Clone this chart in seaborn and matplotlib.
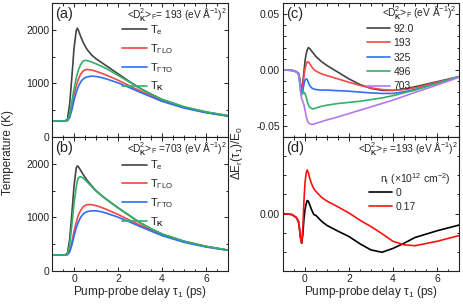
import numpy as np
import pandas as pd
import seaborn as sns
import matplotlib
matplotlib.use("Agg")
import matplotlib.pyplot as plt
from matplotlib.ticker import MultipleLocator

sns.set_theme(style="ticks")
plt.rcParams['font.family'] = ['Liberation Sans', 'DejaVu Sans']
plt.rcParams['mathtext.fontset'] = 'custom'
plt.rcParams['mathtext.rm'] = 'Liberation Sans'
plt.rcParams['mathtext.it'] = 'Liberation Sans:italic'
plt.rcParams['mathtext.bf'] = 'Liberation Sans:bold'
plt.rcParams['axes.unicode_minus'] = False

# ---- data: temperatures (K), panels (a) and (b)
t_T = [-1, -0.5, -0.4, -0.3, -0.2, -0.1, 0, 0.1, 0.15, 0.2, 0.3, 0.4, 0.5, 0.6,
       0.8, 1, 1.25, 1.5, 2, 2.5, 3, 3.5, 4, 5, 6, 7]

Te_a   = [300, 300, 302, 330, 600, 1100, 1650, 1980, 2030, 1990, 1880, 1780, 1700, 1630,
          1530, 1460, 1390, 1320, 1180, 1040, 910, 800, 700, 560, 465, 395]
TK_a   = [300, 300, 300, 310, 420, 650, 900, 1100, 1180, 1250, 1350, 1410, 1430, 1425,
          1400, 1365, 1320, 1270, 1150, 1030, 905, 800, 700, 565, 470, 400]
TLO_a  = [300, 300, 300, 308, 380, 560, 780, 950, 1020, 1080, 1170, 1225, 1252, 1260,
          1250, 1225, 1190, 1150, 1060, 960, 860, 770, 680, 550, 460, 392]
TTO_a  = [300, 300, 300, 305, 360, 500, 680, 830, 890, 945, 1025, 1075, 1105, 1122,
          1135, 1130, 1110, 1080, 1010, 925, 835, 750, 665, 540, 452, 388]

Te_b   = [300, 300, 302, 330, 580, 1050, 1580, 1920, 1960, 1945, 1880, 1810, 1750, 1690,
          1590, 1500, 1410, 1330, 1180, 1040, 900, 790, 690, 555, 460, 390]
TK_b   = [300, 300, 301, 320, 480, 850, 1250, 1560, 1680, 1740, 1760, 1740, 1705, 1660,
          1575, 1490, 1405, 1325, 1178, 1040, 900, 790, 690, 555, 460, 390]
TLO_b  = [300, 300, 300, 306, 370, 530, 740, 900, 980, 1040, 1130, 1190, 1222, 1237,
          1238, 1220, 1185, 1145, 1055, 955, 855, 765, 675, 545, 455, 388]
TTO_b  = [300, 300, 300, 304, 350, 480, 650, 800, 860, 915, 1000, 1055, 1090, 1108,
          1123, 1122, 1105, 1075, 1005, 920, 830, 745, 660, 535, 448, 385]

T_labels = [r'T$_\mathrm{e}$', r'T$_{\Gamma\mathrm{LO}}$', r'T$_{\Gamma\mathrm{TO}}$', r'T$_\mathbf{K}$']
T_colors = ['#444444', '#f24848', '#2f6ff0', '#34b06a']

# ---- data: reflectivity change, panels (c) and (d)
t_E = [-1, -0.6, -0.4, -0.3, -0.25, -0.2, -0.15, -0.1, -0.05, 0, 0.05, 0.1, 0.15, 0.2,
       0.3, 0.4, 0.5, 0.75, 1, 1.5, 2, 2.5, 3, 3.5, 4, 4.5, 5, 6, 7]

E_92  = [0, -0.0003, -0.0015, -0.003, -0.007, -0.013, -0.016, -0.012, -0.002, 0.008, 0.014,
         0.018, 0.020, 0.0195, 0.017, 0.0145, 0.012, 0.0075, 0.004, -0.002, -0.008, -0.013,
         -0.0165, -0.0182, -0.0183, -0.017, -0.015, -0.0105, -0.006]
E_193 = [0, -0.0003, -0.0015, -0.003, -0.007, -0.013, -0.0165, -0.013, -0.006, 0.001, 0.005,
         0.0073, 0.0072, 0.006, 0.003, 0.0005, -0.001, -0.0035, -0.005, -0.008, -0.011, -0.0138,
         -0.016, -0.0175, -0.0182, -0.0175, -0.016, -0.011, -0.006]
E_325 = [0, -0.0003, -0.0015, -0.003, -0.008, -0.015, -0.020, -0.019, -0.013, -0.009, -0.008,
         -0.0085, -0.011, -0.0135, -0.016, -0.017, -0.0175, -0.018, -0.018, -0.0185, -0.019, -0.0198,
         -0.0205, -0.021, -0.021, -0.0195, -0.0175, -0.012, -0.006]
E_496 = [0, -0.0003, -0.0015, -0.003, -0.009, -0.018, -0.022, -0.021, -0.020, -0.021, -0.024,
         -0.028, -0.031, -0.033, -0.0345, -0.0348, -0.034, -0.0325, -0.0315, -0.030, -0.029, -0.028,
         -0.0265, -0.025, -0.023, -0.0205, -0.018, -0.012, -0.006]
E_703 = [0, -0.0003, -0.0015, -0.003, -0.010, -0.020, -0.026, -0.028, -0.031, -0.036, -0.041,
         -0.045, -0.047, -0.048, -0.0488, -0.0485, -0.0478, -0.0462, -0.0447, -0.042, -0.039, -0.036,
         -0.033, -0.030, -0.027, -0.0235, -0.020, -0.0135, -0.0065]
D_labels = ['92.0', '193', '325', '496', '703']
D_colors = ['#444444', '#f24848', '#2f6ff0', '#34b06a', '#b478ee']

E_n0   = [0, -0.0005, -0.002, -0.004, -0.008, -0.013, -0.0155, -0.011, -0.003, 0.002, 0.005,
          0.0068, 0.0065, 0.005, 0.002, -0.0005, -0.001, -0.004, -0.0062, -0.0092, -0.012, -0.0158,
          -0.019, -0.0202, -0.0182, -0.0155, -0.0125, -0.009, -0.006]
E_n017 = [0, -0.0005, -0.002, -0.004, -0.008, -0.013, -0.0155, -0.008, 0.006, 0.016, 0.021,
          0.0228, 0.0215, 0.019, 0.0155, 0.013, 0.0115, 0.0085, 0.0065, 0.0035, 0.0003, -0.0035,
          -0.0068, -0.0105, -0.0145, -0.0163, -0.0168, -0.0145, -0.0115]
n_labels = ['0', '0.17']
n_colors = ['black', '#ff1010']

# ---- figure
fig = plt.figure(figsize=(4.63, 3.05), dpi=100)
W, H = 463, 305
def box(x0, y0, x1, y1):
    return [x0 / W, 1 - y1 / H, (x1 - x0) / W, (y1 - y0) / H]

ax_a = fig.add_axes(box(52, 3, 228, 137))
ax_b = fig.add_axes(box(52, 137, 228, 271))
ax_c = fig.add_axes(box(283, 3, 459, 137))
ax_d = fig.add_axes(box(283, 137, 459, 271))

lw = 1.2
tick_fs = 7.5

for ax, series in [(ax_a, [Te_a, TLO_a, TTO_a, TK_a]), (ax_b, [Te_b, TLO_b, TTO_b, TK_b])]:
    for vals, lab, col in zip(series, T_labels, T_colors):
        sns.lineplot(x=t_T, y=vals, color=col, label=lab, linewidth=lw, ax=ax)
    ax.set_ylim(0, 2500)
    ax.yaxis.set_major_locator(MultipleLocator(1000))
    ax.yaxis.set_minor_locator(MultipleLocator(500))

for vals, lab, col in zip([E_92, E_193, E_325, E_496, E_703], D_labels, D_colors):
    sns.lineplot(x=t_E, y=vals, color=col, label=lab, linewidth=lw, ax=ax_c)
ax_c.set_ylim(-0.06, 0.06)
ax_c.yaxis.set_major_locator(MultipleLocator(0.05))
ax_c.yaxis.set_minor_locator(MultipleLocator(0.01))

for vals, lab, col in zip([E_n0, E_n017], n_labels, n_colors):
    sns.lineplot(x=t_E, y=vals, color=col, label=lab, linewidth=lw, ax=ax_d)
ax_d.set_ylim(-0.03, 0.04)
ax_d.yaxis.set_major_locator(MultipleLocator(0.05))
ax_d.yaxis.set_minor_locator(MultipleLocator(0.01))

for ax in [ax_a, ax_b, ax_c, ax_d]:
    ax.set_xlim(-1, 7)
    ax.xaxis.set_major_locator(MultipleLocator(2))
    ax.xaxis.set_minor_locator(MultipleLocator(0.5))
    ax.tick_params(which='both', direction='in', top=True, right=True,
                   labelsize=tick_fs, pad=2, colors='#222222')
    ax.tick_params(which='major', length=3, width=0.7)
    ax.tick_params(which='minor', length=1.8, width=0.7)
    for s in ax.spines.values():
        s.set_linewidth(0.8)
        s.set_color('#222222')
    ax.set_xlabel('')
    ax.set_ylabel('')

for ax in [ax_a, ax_c]:
    ax.tick_params(labelbottom=False)
ax_c.yaxis.set_major_formatter(matplotlib.ticker.FormatStrFormatter('%.2f'))
ax_d.yaxis.set_major_formatter(matplotlib.ticker.FormatStrFormatter('%.2f'))

for ax in [ax_b, ax_d]:
    ax.set_xlabel('Pump-probe delay τ$_1$ (ps)', fontsize=8.5, labelpad=0)

fig.text(8 / W, 0.5, 'Temperature (K)', rotation=90, ha='center', va='center', fontsize=8.5)
fig.text(237 / W, 0.5, 'ΔE$_\\mathrm{r}$(τ$_1$)/E$_0$', rotation=90, ha='center', va='center', fontsize=8.5)

for ax, lab in zip([ax_a, ax_b, ax_c, ax_d], ['(a)', '(b)', '(c)', '(d)']):
    ax.text(0.02, 0.97, lab, transform=ax.transAxes, ha='left', va='top', fontsize=10.5)

ann_fs = 7.3
ax_a.text(0.995, 0.975, r'<D$^2_\mathbf{K}$>$_\mathrm{F}$= 193 (eV Å$^{-1}$)$^2$',
          transform=ax_a.transAxes, ha='right', va='top', fontsize=ann_fs)
ax_b.text(0.995, 0.975, r'<D$^2_\mathbf{K}$>$_\mathrm{F}$ =703 (eV Å$^{-1}$)$^2$',
          transform=ax_b.transAxes, ha='right', va='top', fontsize=ann_fs)
ax_c.text(0.985, 0.99, r'<D$^2_\mathbf{K}$>$_\mathrm{F}$ (eV Å$^{-1}$)$^2$',
          transform=ax_c.transAxes, ha='right', va='top', fontsize=ann_fs)
ax_d.text(0.995, 0.975, r'<D$^2_\mathbf{K}$>$_\mathrm{F}$ =193 (eV Å$^{-1}$)$^2$',
          transform=ax_d.transAxes, ha='right', va='top', fontsize=ann_fs)
ax_d.text(0.95, 0.745, r'n$_\mathrm{i}$ (×10$^{12}$ cm$^{-2}$)',
          transform=ax_d.transAxes, ha='right', va='top', fontsize=7.5)

leg_kw = dict(frameon=False, handlelength=2.2, handletextpad=0.3, borderpad=0,
              borderaxespad=0, loc='upper left')
ax_a.legend(fontsize=8, labelspacing=0.45, bbox_to_anchor=(0.40, 0.85), **leg_kw)
ax_b.legend(fontsize=8, labelspacing=0.45, bbox_to_anchor=(0.40, 0.84), **leg_kw)
ax_c.legend(fontsize=7.5, labelspacing=0.42, bbox_to_anchor=(0.48, 0.845), **leg_kw)
ax_d.legend(fontsize=7.5, labelspacing=0.35, bbox_to_anchor=(0.49, 0.62), **leg_kw)

fig.savefig('out.png', dpi=100)
